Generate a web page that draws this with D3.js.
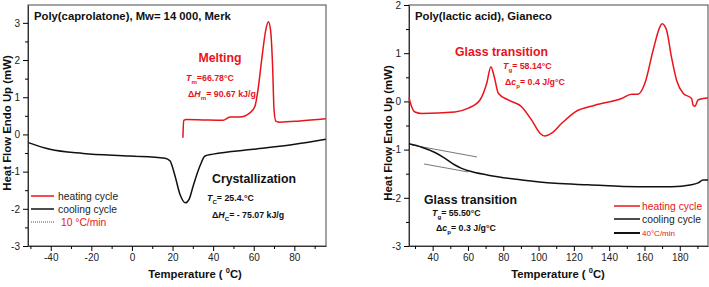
<!DOCTYPE html>
<html>
<head>
<meta charset="utf-8">
<script src="https://cdn.jsdelivr.net/npm/d3@7"></script>
<style>
  body { margin: 0; background: #fff; }
  svg { font-family: "Liberation Sans", Arial, sans-serif; display: block; }
</style>
</head>
<body>
<svg id="chart" width="709" height="287"></svg>
<script>
// Poly(caprolactone) panel
const pclHeatT = [25.1, 25.5, 26.9, 35, 44.9, 48.3, 53.2, 58.1, 60.6, 62.1, 63.9, 65.9, 67.2, 68.3, 69.3, 70.0, 70.9, 72.9, 82.8, 95.5];
const pclHeatY = [-0.09, 0.38, 0.40, 0.39, 0.38, 0.47, 0.47, 0.58, 0.76, 1.2, 2.0, 2.8, 3.03, 2.8, 1.83, 0.67, 0.36, 0.33, 0.36, 0.42];
const pclCoolT = [-51, -40.4, -24, -1, 16.3, 18.7, 21.2, 23.6, 26.4, 28.2, 30.2, 33.5, 36, 40, 59.8, 79.5, 95.5];
const pclCoolY = [-0.22, -0.40, -0.51, -0.58, -0.64, -0.71, -1.11, -1.6, -1.84, -1.74, -1.38, -0.85, -0.58, -0.53, -0.40, -0.27, -0.13];
const pclXTicks = [-40, -20, 0, 20, 40, 60, 80];
const pclYTicks = [-3, -2, -1, 0, 1, 2, 3];

// Poly(lactic acid) panel
const plaHeatT = [26.6, 28.1, 30, 33.8, 52.6, 60.2, 66.8, 70.6, 73.0, 74.9, 77.2, 82.8, 90.4, 96.1, 100.8, 103.6, 107.4, 113, 120.6, 131.9, 147, 152.7, 156.4, 160.2, 164.9, 168.7, 170.0, 172.5, 175.3, 178.2, 181.9, 186.7, 187.6, 188.6, 190.4, 193.2, 196];
const plaHeatY = [0.08, -0.11, -0.22, -0.25, -0.22, -0.14, 0.03, 0.37, 0.72, 0.51, 0.17, 0.03, -0.11, -0.39, -0.66, -0.72, -0.66, -0.46, -0.22, -0.08, 0.06, 0.15, 0.15, 0.37, 1.06, 1.54, 1.61, 1.48, 0.92, 0.44, 0.17, 0.06, -0.08, -0.10, 0.03, 0.06, 0.07];
const plaCoolT = [26.6, 33.8, 41.3, 47, 52.6, 56.4, 60.2, 71.5, 90.4, 109.3, 128.1, 156.4, 175.3, 186.7, 190.4, 193.2, 196];
const plaCoolY = [-0.88, -0.95, -1.06, -1.18, -1.32, -1.39, -1.44, -1.53, -1.63, -1.70, -1.73, -1.77, -1.77, -1.73, -1.69, -1.63, -1.63];
const plaTangentA = [[28.3, -0.905], [65.1, -1.153]];
const plaTangentB = [[35.1, -1.298], [60.0, -1.464]];
const plaXTicks = [40, 60, 80, 100, 120, 140, 160, 180];
const plaYTicks = [-3, -2, -1, 0, 1, 2];

const RED = "#e8141c";
const svg = d3.select("#chart");

function panel(cfg) {
  const x = d3.scaleLinear().domain(cfg.xDomain).range([cfg.left, cfg.right]);
  const y = d3.scaleLinear().domain(cfg.yDomain).range([cfg.bottom, cfg.top]);
  const g = svg.append("g");

  g.append("rect")
    .attr("x", cfg.left).attr("y", cfg.top)
    .attr("width", cfg.right - cfg.left).attr("height", cfg.bottom - cfg.top)
    .attr("fill", "none").attr("stroke", "#666").attr("stroke-width", 1.2);

  // minor ticks
  const xMinor = d3.range(Math.ceil(cfg.xDomain[0] / 10) * 10, cfg.xDomain[1], 10)
    .filter(v => !cfg.xTicks.includes(v));
  const yMinor = d3.range(Math.ceil(cfg.yDomain[0] * 2) / 2, cfg.yDomain[1], 0.5)
    .filter(v => !cfg.yTicks.includes(v));

  const xAxis = g.append("g").attr("transform", `translate(0,${cfg.bottom})`)
    .call(d3.axisBottom(x).tickValues(cfg.xTicks).tickSize(5).tickPadding(3).tickSizeOuter(0));
  g.append("g").attr("transform", `translate(0,${cfg.bottom})`)
    .call(d3.axisBottom(x).tickValues(xMinor).tickSize(3).tickFormat("").tickSizeOuter(0))
    .select(".domain").remove();
  const yAxis = g.append("g").attr("transform", `translate(${cfg.left},0)`)
    .call(d3.axisLeft(y).tickValues(cfg.yTicks).tickSize(5).tickPadding(3).tickSizeOuter(0)
      .tickFormat(d3.format("d")));
  g.append("g").attr("transform", `translate(${cfg.left},0)`)
    .call(d3.axisLeft(y).tickValues(yMinor).tickSize(3).tickFormat("").tickSizeOuter(0))
    .select(".domain").remove();

  [xAxis, yAxis].forEach(a => {
    a.selectAll("text").attr("font-size", 10).attr("fill", "#222")
      .attr("font-family", "Liberation Sans, Arial, sans-serif")
      .text(function () { return this.textContent.replace("\u2212", "-"); });
    a.select(".domain").attr("stroke", "#333");
  });

  // axis titles
  const xt = g.append("text")
    .attr("x", cfg.xTitleX).attr("y", 278)
    .attr("text-anchor", "middle").attr("font-size", 11.3).attr("font-weight", "bold").attr("fill", "#111");
  xt.append("tspan").text("Temperature ( ");
  xt.append("tspan").attr("font-size", 7.5).attr("dy", -5).text("0");
  xt.append("tspan").attr("dy", 5).text("C)");

  g.append("text")
    .attr("transform", `translate(${cfg.yTitleX},${cfg.yTitleY}) rotate(-90)`)
    .attr("text-anchor", "middle").attr("font-size", 11.4).attr("font-weight", "bold").attr("fill", "#111")
    .text("Heat Flow Endo Up (mW)");

  g.append("text")
    .attr("x", cfg.left + 6).attr("y", 20)
    .attr("font-size", 11.3).attr("font-weight", "bold").attr("fill", "#111")
    .text(cfg.title);

  return { g, x, y };
}

function curve(p, ts, ys, color, width) {
  const pts = ts.map((t, i) => [t, ys[i]]);
  p.g.append("path")
    .datum(pts)
    .attr("fill", "none").attr("stroke", color).attr("stroke-width", width || 1.5)
    .attr("stroke-linejoin", "round")
    .attr("d", d3.line().x(d => p.x(d[0])).y(d => p.y(d[1])).curve(d3.curveMonotoneX));
}

function label(g, x, y, size, color, parts, anchor) {
  const t = g.append("text").attr("x", x).attr("y", y)
    .attr("font-size", size).attr("font-weight", "bold").attr("fill", color)
    .attr("text-anchor", anchor || "start");
  parts.forEach(pt => {
    const s = t.append("tspan").text(pt.t);
    if (pt.i) s.attr("font-style", "italic");
    if (pt.sub) s.attr("font-size", size * 0.7).attr("dy", 2.5);
    if (pt.up) s.attr("dy", -2.5);
  });
  return t;
}

// ---------- left panel ----------
const pcl = panel({
  left: 28, right: 326, top: 5, bottom: 246,
  xDomain: [-51.2, 95.6], yDomain: [-3, 3.48],
  xTicks: pclXTicks, yTicks: pclYTicks,
  xTitleX: 195, yTitleX: 11, yTitleY: 123,
  title: "Poly(caprolatone), Mw= 14 000, Merk"
});
curve(pcl, pclCoolT, pclCoolY, "#111");
curve(pcl, pclHeatT, pclHeatY, RED);

label(pcl.g, 220, 62, 12.3, RED, [{ t: "Melting" }], "middle");
label(pcl.g, 186, 81, 8.8, RED, [{ t: "T", i: true }, { t: "m", sub: true }, { t: "=66.78°C", up: true }]);
label(pcl.g, 188, 97, 8.8, RED, [{ t: "\u0394" }, { t: "H", i: true }, { t: "m", sub: true }, { t: "= 90.67 kJ/g", up: true }]);

label(pcl.g, 212, 183, 12.3, "#111", [{ t: "Crystallization" }]);
label(pcl.g, 207, 201, 8.8, "#111", [{ t: "T", i: true }, { t: "C", sub: true }, { t: "= 25.4.°C", up: true }]);
label(pcl.g, 212, 218, 8.8, "#111", [{ t: "\u0394" }, { t: "H", i: true }, { t: "C", sub: true }, { t: "= - 75.07 kJ/g", up: true }]);

// legend left
const legL = [
  { y: 196, color: RED, dash: null, text: "heating cycle", tc: "#222", tx: 58 },
  { y: 209, color: "#111", dash: null, text: "cooling cycle", tc: "#222", tx: 58 },
  { y: 222, color: RED, dash: "1,1", text: "10 °C/min", tc: RED, tx: 61 }
];
legL.forEach(d => {
  pcl.g.append("line").attr("x1", 31).attr("x2", 54).attr("y1", d.y).attr("y2", d.y)
    .attr("stroke", d.color).attr("stroke-width", d.dash ? 1 : 1.5).attr("stroke-dasharray", d.dash);
  pcl.g.append("text").attr("x", d.tx).attr("y", d.y + 3.7).attr("font-size", 10.3)
    .attr("fill", d.tc).text(d.text);
});

// ---------- right panel ----------
const pla = panel({
  left: 409, right: 708, top: 5, bottom: 246,
  xDomain: [26.6, 196], yDomain: [-3, 2],
  xTicks: plaXTicks, yTicks: plaYTicks,
  xTitleX: 558, yTitleX: 392, yTitleY: 133,
  title: "Poly(lactic acid), Gianeco"
});
[plaTangentA, plaTangentB].forEach(seg => {
  pla.g.append("line")
    .attr("x1", pla.x(seg[0][0])).attr("y1", pla.y(seg[0][1]))
    .attr("x2", pla.x(seg[1][0])).attr("y2", pla.y(seg[1][1]))
    .attr("stroke", "#777").attr("stroke-width", 1);
});
curve(pla, plaCoolT, plaCoolY, "#111");
curve(pla, plaHeatT, plaHeatY, RED);

label(pla.g, 455, 56, 12.3, RED, [{ t: "Glass transition" }]);
label(pla.g, 503, 69, 8.8, RED, [{ t: "T", i: true }, { t: "g", sub: true }, { t: "= 58.14°C", up: true }]);
label(pla.g, 505, 85, 8.8, RED, [{ t: "\u0394" }, { t: "c", i: true }, { t: "p", sub: true }, { t: "= 0.4 J/g°C", up: true }]);

label(pla.g, 424, 204, 12.3, "#111", [{ t: "Glass transition" }]);
label(pla.g, 432, 216, 8.8, "#111", [{ t: "T", i: true }, { t: "g", sub: true }, { t: "= 55.50°C", up: true }]);
label(pla.g, 436, 231, 8.8, "#111", [{ t: "\u0394" }, { t: "c", i: true }, { t: "p", sub: true }, { t: "= 0.3 J/g°C", up: true }]);

// legend right
const legR = [
  { y: 206, color: RED, w: 1.5, text: "heating cycle", tc: RED, size: 10.3 },
  { y: 219, color: "#111", w: 1.5, text: "cooling cycle", tc: "#222", size: 10.3 },
  { y: 233, color: "#111", w: 2, text: "40°C/min", tc: RED, size: 8 }
];
legR.forEach(d => {
  pla.g.append("line").attr("x1", 614).attr("x2", 640).attr("y1", d.y).attr("y2", d.y)
    .attr("stroke", d.color).attr("stroke-width", d.w);
  pla.g.append("text").attr("x", 642).attr("y", d.y + d.size * 0.36).attr("font-size", d.size)
    .attr("fill", d.tc).text(d.text);
});
</script>
</body>
</html>
